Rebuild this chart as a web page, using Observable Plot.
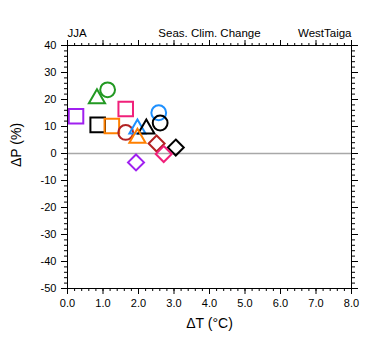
<!DOCTYPE html>
<html>
<head>
<meta charset="utf-8">
<script src="https://cdn.jsdelivr.net/npm/d3@7"></script>
<script src="https://cdn.jsdelivr.net/npm/@observablehq/plot@0.6"></script>
<style>
  html, body { margin: 0; padding: 0; background: white; }
</style>
</head>
<body>
<div id="chart"></div>
<script>
// ---- data ----
const dT     = [0.24, 0.85, 1.25, 1.64, 0.83, 1.97, 2.22, 1.97, 1.13, 2.57, 2.61, 1.64, 2.51, 3.05, 2.71, 1.93];
const dP     = [13.8, 10.6, 10.2, 16.5, 20.3,  9.1,  9.1,  5.7, 23.6, 15.1, 11.3,  7.8,  3.7,  2.2, -0.2, -3.3];
const model  = ["m1","m2","m3","m4","m5","m6","m2","m3","m5","m6","m2","m7","m7","m2","m4","m1"];
const period = ["p1","p1","p1","p1","p2","p2","p2","p2","p3","p3","p3","p3","p4","p4","p4","p4"];

const modelNames  = ["m1","m2","m3","m4","m5","m6","m7"];
const periodNames = ["p1","p2","p3","p4"];

const xMajor = [0, 1, 2, 3, 4, 5, 6, 7, 8];
const yMajor = [-50, -40, -30, -20, -10, 0, 10, 20, 30, 40];
const xMinor = d3.range(0, 8.001, 0.2).map(v => +v.toFixed(1));
const yMinor = d3.range(-50, 40.001, 2);

const titleLeft = "JJA", titleCenter = "Seas. Clim. Change", titleRight = "WestTaiga";
const xLabel = "ΔT (°C)", yLabel = "ΔP (%)";

const points = dT.map((x, i) => ({dT: x, dP: dP[i], model: model[i], period: period[i]}));

// ---- styles ----
const modelColors = ["#a020f0", "#000000", "#ff8000", "#f0207a", "#229922", "#1e90ff", "#b22222"];
const periodSymbols = ["square", "triangle", "circle", "diamond2"];
const symbolR = {p1: 8.2, p2: 6.0, p3: 7.4, p4: 7.2};

const blank = () => "";
const chart = Plot.plot({
  width: 380,
  height: 355,
  marginLeft: 67,
  marginRight: 29,
  marginTop: 45,
  marginBottom: 67,
  style: {fontFamily: "'Liberation Sans', Arial, sans-serif", fontSize: "11px", background: "white", color: "black"},
  x: {domain: [0, 8]},
  y: {domain: [-50, 40]},
  color: {type: "ordinal", domain: modelNames, range: modelColors},
  symbol: {domain: periodNames, range: periodSymbols},
  r: {type: "identity"},
  marks: [
    Plot.ruleY([0], {stroke: "#a8a8a8", strokeWidth: 1.5}),
    Plot.dot(points, {x: "dT", y: "dP", stroke: "model", symbol: "period", r: d => symbolR[d.period], fill: "none", strokeWidth: 2}),
    Plot.frame({stroke: "black", strokeWidth: 1}),
    // bottom axis
    Plot.axisX({anchor: "bottom", ticks: xMajor, tickSize: 6, tickPadding: 5, tickFormat: d3.format(".1f"), label: null, fontSize: 11}),
    Plot.axisX({anchor: "bottom", ticks: xMinor, tickSize: 3, tickFormat: blank, label: null}),
    // top axis
    Plot.axisX({anchor: "top", ticks: xMajor, tickSize: 6, tickFormat: blank, label: null}),
    Plot.axisX({anchor: "top", ticks: xMinor, tickSize: 3, tickFormat: blank, label: null}),
    // left axis
    Plot.axisY({anchor: "left", ticks: yMajor, tickSize: 6, tickPadding: 5, tickFormat: d => String(d), label: null, fontSize: 11}),
    Plot.axisY({anchor: "left", ticks: yMinor, tickSize: 3, tickFormat: blank, label: null}),
    // right axis
    Plot.axisY({anchor: "right", ticks: yMajor, tickSize: 6, tickFormat: blank, label: null}),
    Plot.axisY({anchor: "right", ticks: yMinor, tickSize: 3, tickFormat: blank, label: null}),
    // titles
    Plot.text([titleLeft], {text: d => d, frameAnchor: "top-left", textAnchor: "start", lineAnchor: "bottom", dy: -9, fontSize: 11.5}),
    Plot.text([titleCenter], {text: d => d, frameAnchor: "top", textAnchor: "middle", lineAnchor: "bottom", dy: -9, fontSize: 11.5}),
    Plot.text([titleRight], {text: d => d, frameAnchor: "top-right", textAnchor: "end", lineAnchor: "bottom", dy: -9, fontSize: 11.5}),
    // axis titles
    Plot.text([xLabel], {text: d => d, frameAnchor: "bottom", lineAnchor: "middle", dy: 35, fontSize: 14}),
    Plot.text([yLabel], {text: d => d, frameAnchor: "left", lineAnchor: "middle", rotate: -90, dx: -51, fontSize: 14})
  ]
});
document.getElementById("chart").appendChild(chart);
</script>
</body>
</html>
